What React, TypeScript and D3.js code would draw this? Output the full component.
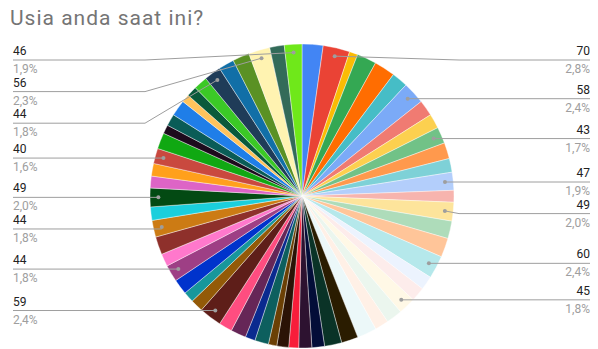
import React from "react";
import * as d3 from "d3";

const title = "Usia anda saat ini?";

// one slice per respondent (age), in drawing order clockwise from 12 o'clock
const ages = [
  55, 70, 22, 51, 55, 42, 58, 42, 38, 43,
  42, 36, 47, 31, 49, 46, 50, 60, 36, 37,
  45, 42, 36, 51, 44, 45, 33, 34, 26, 31,
  22, 36, 26, 40, 35, 59, 33, 28, 40, 44,
  33, 47, 44, 35, 49, 31, 33, 40, 42, 23,
  31, 42, 21, 27, 36, 44, 41, 44, 56, 38, 46,
];

const colors = [
  "#4285f4", "#ea4335", "#fbbc04", "#34a853", "#ff6d01", "#46bdc6", "#7baaf7", "#f07b72", "#fcd04f", "#71c287",
  "#ff994d", "#7ed1d7", "#b3cefb", "#f7b4ae", "#fde49b", "#aedcba", "#ffc599", "#b5e8eb", "#ecf3fe", "#fdeceb",
  "#fff8e6", "#ebf6ee", "#fff0e6", "#ecf8f9", "#2a1c00", "#0a3327", "#030d38", "#2d1230", "#f81d3a", "#2b1306",
  "#6b4005", "#0d5f5e", "#0a2a8f", "#662657", "#ff4d80", "#5e1e19", "#935a08", "#17979b", "#0033cc", "#9e3f85",
  "#ff78cc", "#8e302b", "#cc7b14", "#1bcfdc", "#034a13", "#dd64c6", "#ffa01c", "#c9493f", "#10a812", "#1d0b1d",
  "#0a5c57", "#1f7ee8", "#ffc35c", "#0a5a3b", "#3bc926", "#1f3c58", "#116fa7", "#5a9124", "#fff3b1", "#336b59", "#6fe81a",
];

// indices of slices that carry an outside label
const labeledSlices = [1, 6, 9, 12, 14, 17, 20, 35, 39, 42, 44, 47, 55, 58, 60];

const W = 598;
const H = 349;
const cx = 302;
const cy = 196;
const R = 152;
const LINE_GAP = 31.6;
const LINE_MIN_Y = 60;
const LEFT_X = 13;
const RIGHT_X = 590;

export default function App() {
  const total = d3.sum(ages);
  const pie = d3.pie<number>().sort(null).value((d) => d).startAngle(0).endAngle(2 * Math.PI);
  const arcs = pie(ages);
  const arc = d3.arc<d3.PieArcDatum<number>>().innerRadius(0).outerRadius(R);
  const dotArc = d3.arc<d3.PieArcDatum<number>>().innerRadius(R * 0.945).outerRadius(R * 0.945);
  const fmt = d3.format(".1f");

  const items = labeledSlices.map((i) => {
    const a = arcs[i];
    const [dx, dy] = dotArc.centroid(a);
    const mid = (a.startAngle + a.endAngle) / 2;
    return {
      i,
      value: ages[i],
      pct: fmt((ages[i] / total) * 100).replace(".", ",") + "%",
      dotX: cx + dx,
      dotY: cy + dy,
      side: mid < Math.PI ? "right" : "left",
      lineY: 0,
    };
  });

  ["left", "right"].forEach((side) => {
    const s = items.filter((d) => d.side === side).sort((a, b) => a.dotY - b.dotY);
    let prev = -Infinity;
    s.forEach((d) => {
      d.lineY = Math.max(d.dotY, prev + LINE_GAP, LINE_MIN_Y);
      prev = d.lineY;
    });
  });

  const font = "Roboto, 'Liberation Sans', Arial, sans-serif";

  return (
    <svg width={W} height={H} style={{ position: "absolute", left: 0, top: 0, display: "block" }}>
      <rect width={W} height={H} fill="#ffffff" />
      <text x={10} y={25} fontFamily={font} fontSize={21} letterSpacing={1} fill="#757575">
        {title}
      </text>
      <g transform={`translate(${cx},${cy})`}>
        {arcs.map((a, k) => (
          <path key={k} d={arc(a) || ""} fill={colors[k]} stroke="#ffffff" strokeWidth={0.5} strokeOpacity={0.8} />
        ))}
      </g>
      {items.map((d) => {
        const bendX = d.side === "right" ? cx + R + 5 : cx - R - 5;
        const endX = d.side === "right" ? RIGHT_X : LEFT_X;
        const pts =
          Math.abs(d.lineY - d.dotY) < 2.5
            ? `${d.dotX},${d.lineY} ${endX},${d.lineY}`
            : `${d.dotX},${d.dotY} ${bendX},${d.lineY} ${endX},${d.lineY}`;
        const tx = d.side === "right" ? RIGHT_X : LEFT_X;
        const anchor = d.side === "right" ? "end" : "start";
        return (
          <g key={d.i}>
            <polyline points={pts} fill="none" stroke="#9e9e9e" strokeWidth={1} />
            <circle cx={d.dotX} cy={d.dotY} r={2} fill="#9e9e9e" />
            <text x={tx} y={d.lineY - 5} textAnchor={anchor} fontFamily={font} fontSize={12} fill="#222222">
              {d.value}
            </text>
            <text x={tx} y={d.lineY + 13} textAnchor={anchor} fontFamily={font} fontSize={12} fill="#9e9e9e">
              {d.pct}
            </text>
          </g>
        );
      })}
    </svg>
  );
}
